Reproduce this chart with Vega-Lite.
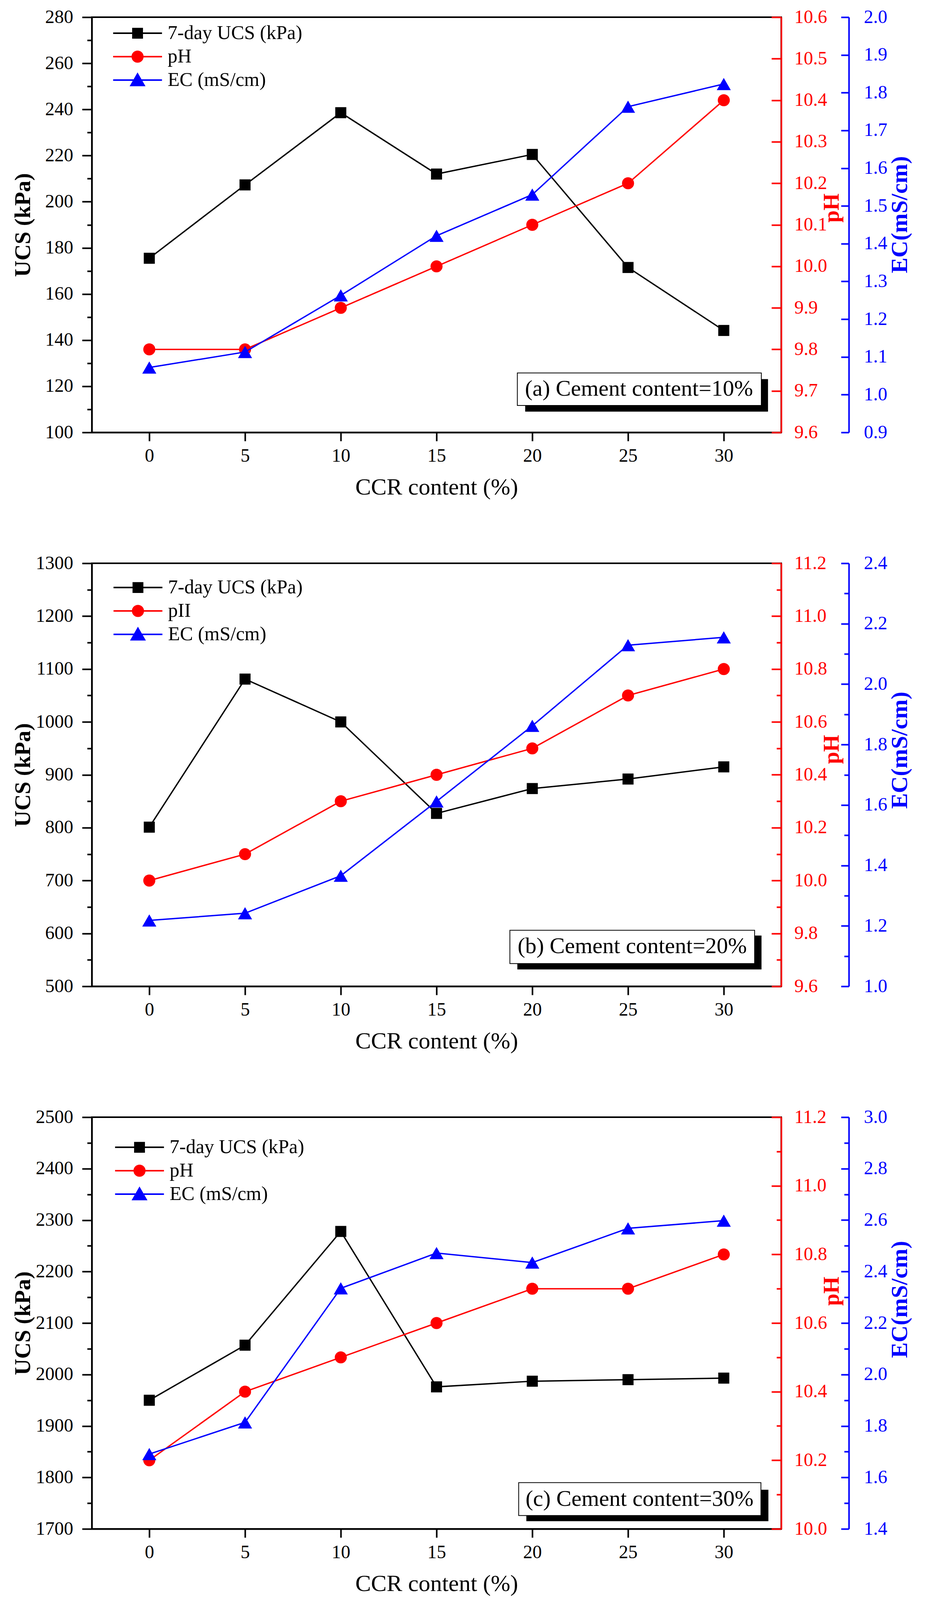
{
  "$schema": "https://vega.github.io/schema/vega-lite/v6.json",
  "background": "white",
  "padding": {"left": 28, "top": 18, "right": 10, "bottom": 4},
  "spacing": 335,
  "bounds": "flush",
  "resolve": {
    "scale": {"fill": "independent", "stroke": "independent", "shape": "independent"},
    "legend": {"fill": "independent", "stroke": "independent", "shape": "independent"}
  },
  "vconcat": [
    {
      "width": 1764,
      "height": 1063,
      "data": {"values": [
        {"ccr": 0, "ucs": 175.5, "ph": 9.8, "ec": 1.072},
        {"ccr": 5, "ucs": 207.3, "ph": 9.8, "ec": 1.113},
        {"ccr": 10, "ucs": 238.6, "ph": 9.9, "ec": 1.263},
        {"ccr": 15, "ucs": 212.0, "ph": 10.0, "ec": 1.421},
        {"ccr": 20, "ucs": 220.5, "ph": 10.1, "ec": 1.53},
        {"ccr": 25, "ucs": 171.5, "ph": 10.2, "ec": 1.763},
        {"ccr": 30, "ucs": 144.2, "ph": 10.4, "ec": 1.823}
      ]},
      "layer": [
        {
          "encoding": {
            "x": {"field": "ccr", "type": "quantitative",
              "scale": {"domain": [-3, 33], "nice": false, "zero": false},
              "axis": {"values": [0, 5, 10, 15, 20, 25, 30], "tickSize": 22, "labelPadding": 14, "title": "CCR content (%)", "titlePadding": 27}},
            "y": {"field": "ucs", "type": "quantitative",
              "scale": {"domain": [100, 280], "nice": false, "zero": false},
              "axis": {"orient": "left", "format": "d", "values": [100, 110, 120, 130, 140, 150, 160, 170, 180, 190, 200, 210, 220, 230, 240, 250, 260, 270, 280],
                "tickSize": {"condition": {"test": "datum.value % 20 === 0", "value": 25}, "value": 12},
                "labelExpr": "datum.value % 20 === 0 ? datum.label : ''",
                "labelPadding": 23, "title": "UCS (kPa)", "titleFontWeight": "bold", "titleFontSize": 58, "titlePadding": 27}}},
          "layer": [
            {"mark": {"type": "line", "color": "black", "strokeWidth": 3.5}, "encoding": {}},
            {"mark": {"type": "point", "shape": "square", "filled": true, "size": 800, "opacity": 1, "color": "black"}, "encoding": {}}
          ]
        },
        {
          "encoding": {
            "x": {"field": "ccr", "type": "quantitative",
              "scale": {"domain": [-3, 33], "nice": false, "zero": false},
              "axis": {"values": [0, 5, 10, 15, 20, 25, 30], "tickSize": 22, "labelPadding": 14, "title": "CCR content (%)", "titlePadding": 27}},
            "y": {"field": "ph", "type": "quantitative",
              "scale": {"domain": [9.6, 10.6], "nice": false, "zero": false},
              "axis": {"orient": "right", "values": [9.6, 9.7, 9.8, 9.9, 10.0, 10.1, 10.2, 10.3, 10.4, 10.5, 10.6], "format": ".1f",
                "tickSize": -25, "domainColor": "#ff0000", "tickColor": "#ff0000", "labelColor": "#ff0000", "labelPadding": 58,
                "title": "pH", "titleColor": "#ff0000", "titleFontWeight": "bold", "titleFontSize": 56, "titleAngle": 270, "titleBaseline": "top", "titlePadding": -15, "titleY": 488}}},
          "layer": [
            {"mark": {"type": "line", "color": "#ff0000", "strokeWidth": 3.5}, "encoding": {}},
            {"mark": {"type": "point", "shape": "circle", "filled": true, "size": 950, "opacity": 1, "color": "#ff0000"}, "encoding": {}}
          ]
        },
        {
          "encoding": {
            "x": {"field": "ccr", "type": "quantitative",
              "scale": {"domain": [-3, 33], "nice": false, "zero": false},
              "axis": {"values": [0, 5, 10, 15, 20, 25, 30], "tickSize": 22, "labelPadding": 14, "title": "CCR content (%)", "titlePadding": 27}},
            "y": {"field": "ec", "type": "quantitative",
              "scale": {"domain": [0.9, 2.0], "nice": false, "zero": false},
              "axis": {"orient": "right", "offset": 173, "values": [0.9, 1.0, 1.1, 1.2, 1.3, 1.4, 1.5, 1.6, 1.7, 1.8, 1.9, 2.0], "format": ".1f",
                "tickSize": -20, "domainColor": "#0000ff", "tickColor": "#0000ff", "labelColor": "#0000ff", "labelPadding": 58,
                "title": "EC(mS/cm)", "titleColor": "#0000ff", "titleFontWeight": "bold", "titleFontSize": 60, "titleAngle": 270, "titleBaseline": "top", "titlePadding": 3, "titleY": 505}}},
          "layer": [
            {"mark": {"type": "line", "color": "#0000ff", "strokeWidth": 3.5}, "encoding": {}},
            {"mark": {"type": "point", "shape": "triangle-up", "filled": true, "size": 1300, "opacity": 1, "color": "#0000ff"}, "encoding": {}}
          ]
        },
        {
          "data": {"values": [{"label": "(a) Cement content=10%"}]},
          "layer": [
            {"mark": {"type": "rect", "color": "black"},
             "encoding": {
               "x": {"datum": 19.63, "type": "quantitative", "scale": {"domain": [-3, 33], "nice": false, "zero": false},
                 "axis": {"values": [0, 5, 10, 15, 20, 25, 30], "tickSize": 22, "labelPadding": 14, "title": "CCR content (%)", "titlePadding": 27}},
               "x2": {"datum": 32.31},
               "y": {"datum": 123.1, "type": "quantitative", "scale": {"domain": [100, 280], "nice": false, "zero": false}, "axis": null},
               "y2": {"datum": 109.0}}},
            {"mark": {"type": "rect", "fill": "white", "stroke": "black", "strokeWidth": 2},
             "encoding": {
               "x": {"datum": 19.22, "type": "quantitative", "scale": {"domain": [-3, 33], "nice": false, "zero": false},
                 "axis": {"values": [0, 5, 10, 15, 20, 25, 30], "tickSize": 22, "labelPadding": 14, "title": "CCR content (%)", "titlePadding": 27}},
               "x2": {"datum": 31.96},
               "y": {"datum": 125.8, "type": "quantitative", "scale": {"domain": [100, 280], "nice": false, "zero": false}, "axis": null},
               "y2": {"datum": 111.7}}},
            {"mark": {"type": "text", "font": "Liberation Serif", "fontSize": 58, "color": "black"},
             "encoding": {
               "x": {"datum": 25.57, "type": "quantitative", "scale": {"domain": [-3, 33], "nice": false, "zero": false},
                 "axis": {"values": [0, 5, 10, 15, 20, 25, 30], "tickSize": 22, "labelPadding": 14, "title": "CCR content (%)", "titlePadding": 27}},
               "y": {"datum": 118.8, "type": "quantitative", "scale": {"domain": [100, 280], "nice": false, "zero": false}, "axis": null},
               "text": {"field": "label"}}}
          ]
        },
        {
          "data": {"values": []},
          "mark": {"type": "point", "filled": true, "opacity": 1},
          "encoding": {
            "fill": {"datum": "7-day UCS (kPa)", "type": "nominal",
              "scale": {"domain": ["7-day UCS (kPa)", "pH", "EC (mS/cm)"], "range": ["#000000", "#ff0000", "#0000ff"]},
              "legend": {"title": null, "orient": "none", "legendX": 52.5, "legendY": 11}},
            "stroke": {"datum": "7-day UCS (kPa)", "type": "nominal",
              "scale": {"domain": ["7-day UCS (kPa)", "pH", "EC (mS/cm)"], "range": ["#000000", "#ff0000", "#0000ff"]},
              "legend": {"title": null, "orient": "none", "legendX": 52.5, "legendY": 11}},
            "shape": {"datum": "7-day UCS (kPa)", "type": "nominal",
              "scale": {"domain": ["7-day UCS (kPa)", "pH", "EC (mS/cm)"], "range": ["M-1,0H1M-0.19,-0.19H0.19V0.19H-0.19Z", "M-1,0H1M-0.216,0A0.216,0.216 0 1,1 0.216,0A0.216,0.216 0 1,1 -0.216,0Z", "M-1,0H1M0,-0.25L0.27,0.22L-0.27,0.22Z"]},
              "legend": {"title": null, "orient": "none", "legendX": 52.5, "legendY": 11}}
          }
        }
      ],
      "resolve": {"scale": {"y": "independent"}}
    },
    {
      "width": 1764,
      "height": 1083,
      "data": {"values": [
        {"ccr": 0, "ucs": 801, "ph": 10.0, "ec": 1.218},
        {"ccr": 5, "ucs": 1081, "ph": 10.1, "ec": 1.242},
        {"ccr": 10, "ucs": 1000, "ph": 10.3, "ec": 1.366},
        {"ccr": 15, "ucs": 827, "ph": 10.4, "ec": 1.612},
        {"ccr": 20, "ucs": 874, "ph": 10.5, "ec": 1.862},
        {"ccr": 25, "ucs": 892, "ph": 10.7, "ec": 2.129},
        {"ccr": 30, "ucs": 915, "ph": 10.8, "ec": 2.155}
      ]},
      "layer": [
        {
          "encoding": {
            "x": {"field": "ccr", "type": "quantitative",
              "scale": {"domain": [-3, 33], "nice": false, "zero": false},
              "axis": {"values": [0, 5, 10, 15, 20, 25, 30], "tickSize": 22, "labelPadding": 14, "title": "CCR content (%)", "titlePadding": 27}},
            "y": {"field": "ucs", "type": "quantitative",
              "scale": {"domain": [500, 1300], "nice": false, "zero": false},
              "axis": {"orient": "left", "format": "d", "values": [500, 550, 600, 650, 700, 750, 800, 850, 900, 950, 1000, 1050, 1100, 1150, 1200, 1250, 1300],
                "tickSize": {"condition": {"test": "datum.value % 100 === 0", "value": 25}, "value": 12},
                "labelExpr": "datum.value % 100 === 0 ? datum.label : ''",
                "labelPadding": 23, "title": "UCS (kPa)", "titleFontWeight": "bold", "titleFontSize": 58, "titlePadding": 3}}},
          "layer": [
            {"mark": {"type": "line", "color": "black", "strokeWidth": 3.5}, "encoding": {}},
            {"mark": {"type": "point", "shape": "square", "filled": true, "size": 800, "opacity": 1, "color": "black"}, "encoding": {}}
          ]
        },
        {
          "encoding": {
            "x": {"field": "ccr", "type": "quantitative",
              "scale": {"domain": [-3, 33], "nice": false, "zero": false},
              "axis": {"values": [0, 5, 10, 15, 20, 25, 30], "tickSize": 22, "labelPadding": 14, "title": "CCR content (%)", "titlePadding": 27}},
            "y": {"field": "ph", "type": "quantitative",
              "scale": {"domain": [9.6, 11.2], "nice": false, "zero": false},
              "axis": {"orient": "right", "values": [9.6, 9.7, 9.8, 9.9, 10.0, 10.1, 10.2, 10.3, 10.4, 10.5, 10.6, 10.7, 10.8, 10.9, 11.0, 11.1, 11.2], "format": ".1f",
                "tickSize": {"condition": {"test": "abs(datum.value * 5 - round(datum.value * 5)) < 0.01", "value": -25}, "value": -12},
                "labelExpr": "abs(datum.value * 5 - round(datum.value * 5)) < 0.01 ? datum.label : ''",
                "domainColor": "#ff0000", "tickColor": "#ff0000", "labelColor": "#ff0000", "labelPadding": 58,
                "title": "pH", "titleColor": "#ff0000", "titleFontWeight": "bold", "titleFontSize": 56, "titleAngle": 270, "titleBaseline": "top", "titlePadding": -15, "titleY": 476}}},
          "layer": [
            {"mark": {"type": "line", "color": "#ff0000", "strokeWidth": 3.5}, "encoding": {}},
            {"mark": {"type": "point", "shape": "circle", "filled": true, "size": 950, "opacity": 1, "color": "#ff0000"}, "encoding": {}}
          ]
        },
        {
          "encoding": {
            "x": {"field": "ccr", "type": "quantitative",
              "scale": {"domain": [-3, 33], "nice": false, "zero": false},
              "axis": {"values": [0, 5, 10, 15, 20, 25, 30], "tickSize": 22, "labelPadding": 14, "title": "CCR content (%)", "titlePadding": 27}},
            "y": {"field": "ec", "type": "quantitative",
              "scale": {"domain": [1.0, 2.4], "nice": false, "zero": false},
              "axis": {"orient": "right", "offset": 173, "values": [1.0, 1.1, 1.2, 1.3, 1.4, 1.5, 1.6, 1.7, 1.8, 1.9, 2.0, 2.1, 2.2, 2.3, 2.4], "format": ".1f",
                "tickSize": {"condition": {"test": "abs(datum.value * 5 - round(datum.value * 5)) < 0.01", "value": -20}, "value": -12},
                "labelExpr": "abs(datum.value * 5 - round(datum.value * 5)) < 0.01 ? datum.label : ''",
                "domainColor": "#0000ff", "tickColor": "#0000ff", "labelColor": "#0000ff", "labelPadding": 58,
                "title": "EC(mS/cm)", "titleColor": "#0000ff", "titleFontWeight": "bold", "titleFontSize": 60, "titleAngle": 270, "titleBaseline": "top", "titlePadding": 3, "titleY": 478}}},
          "layer": [
            {"mark": {"type": "line", "color": "#0000ff", "strokeWidth": 3.5}, "encoding": {}},
            {"mark": {"type": "point", "shape": "triangle-up", "filled": true, "size": 1300, "opacity": 1, "color": "#0000ff"}, "encoding": {}}
          ]
        },
        {
          "data": {"values": [{"label": "(b) Cement content=20%"}]},
          "layer": [
            {"mark": {"type": "rect", "color": "black"},
             "encoding": {
               "x": {"datum": 19.22, "type": "quantitative", "scale": {"domain": [-3, 33], "nice": false, "zero": false},
                 "axis": {"values": [0, 5, 10, 15, 20, 25, 30], "tickSize": 22, "labelPadding": 14, "title": "CCR content (%)", "titlePadding": 27}},
               "x2": {"datum": 31.97},
               "y": {"datum": 596, "type": "quantitative", "scale": {"domain": [500, 1300], "nice": false, "zero": false}, "axis": null},
               "y2": {"datum": 532}}},
            {"mark": {"type": "rect", "fill": "white", "stroke": "black", "strokeWidth": 2},
             "encoding": {
               "x": {"datum": 18.83, "type": "quantitative", "scale": {"domain": [-3, 33], "nice": false, "zero": false},
                 "axis": {"values": [0, 5, 10, 15, 20, 25, 30], "tickSize": 22, "labelPadding": 14, "title": "CCR content (%)", "titlePadding": 27}},
               "x2": {"datum": 31.61},
               "y": {"datum": 606, "type": "quantitative", "scale": {"domain": [500, 1300], "nice": false, "zero": false}, "axis": null},
               "y2": {"datum": 543}}},
            {"mark": {"type": "text", "font": "Liberation Serif", "fontSize": 58, "color": "black"},
             "encoding": {
               "x": {"datum": 25.22, "type": "quantitative", "scale": {"domain": [-3, 33], "nice": false, "zero": false},
                 "axis": {"values": [0, 5, 10, 15, 20, 25, 30], "tickSize": 22, "labelPadding": 14, "title": "CCR content (%)", "titlePadding": 27}},
               "y": {"datum": 575, "type": "quantitative", "scale": {"domain": [500, 1300], "nice": false, "zero": false}, "axis": null},
               "text": {"field": "label"}}}
          ]
        },
        {
          "data": {"values": []},
          "mark": {"type": "point", "filled": true, "opacity": 1},
          "encoding": {
            "fill": {"datum": "7-day UCS (kPa)", "type": "nominal",
              "scale": {"domain": ["7-day UCS (kPa)", "pII", "EC (mS/cm)"], "range": ["#000000", "#ff0000", "#0000ff"]},
              "legend": {"title": null, "orient": "none", "legendX": 53.5, "legendY": 32}},
            "stroke": {"datum": "7-day UCS (kPa)", "type": "nominal",
              "scale": {"domain": ["7-day UCS (kPa)", "pII", "EC (mS/cm)"], "range": ["#000000", "#ff0000", "#0000ff"]},
              "legend": {"title": null, "orient": "none", "legendX": 53.5, "legendY": 32}},
            "shape": {"datum": "7-day UCS (kPa)", "type": "nominal",
              "scale": {"domain": ["7-day UCS (kPa)", "pII", "EC (mS/cm)"], "range": ["M-1,0H1M-0.19,-0.19H0.19V0.19H-0.19Z", "M-1,0H1M-0.216,0A0.216,0.216 0 1,1 0.216,0A0.216,0.216 0 1,1 -0.216,0Z", "M-1,0H1M0,-0.25L0.27,0.22L-0.27,0.22Z"]},
              "legend": {"title": null, "orient": "none", "legendX": 53.5, "legendY": 32}}
          }
        }
      ],
      "resolve": {"scale": {"y": "independent"}}
    },
    {
      "width": 1764,
      "height": 1054,
      "data": {"values": [
        {"ccr": 0, "ucs": 1950, "ph": 10.2, "ec": 1.691},
        {"ccr": 5, "ucs": 2057, "ph": 10.4, "ec": 1.814},
        {"ccr": 10, "ucs": 2278, "ph": 10.5, "ec": 2.335},
        {"ccr": 15, "ucs": 1976, "ph": 10.6, "ec": 2.472},
        {"ccr": 20, "ucs": 1987, "ph": 10.7, "ec": 2.435},
        {"ccr": 25, "ucs": 1990, "ph": 10.7, "ec": 2.568},
        {"ccr": 30, "ucs": 1993, "ph": 10.8, "ec": 2.598}
      ]},
      "layer": [
        {
          "encoding": {
            "x": {"field": "ccr", "type": "quantitative",
              "scale": {"domain": [-3, 33], "nice": false, "zero": false},
              "axis": {"values": [0, 5, 10, 15, 20, 25, 30], "tickSize": 22, "labelPadding": 14, "title": "CCR content (%)", "titlePadding": 27}},
            "y": {"field": "ucs", "type": "quantitative",
              "scale": {"domain": [1700, 2500], "nice": false, "zero": false},
              "axis": {"orient": "left", "format": "d", "values": [1700, 1750, 1800, 1850, 1900, 1950, 2000, 2050, 2100, 2150, 2200, 2250, 2300, 2350, 2400, 2450, 2500],
                "tickSize": {"condition": {"test": "datum.value % 100 === 0", "value": 25}, "value": 12},
                "labelExpr": "datum.value % 100 === 0 ? datum.label : ''",
                "labelPadding": 23, "title": "UCS (kPa)", "titleFontWeight": "bold", "titleFontSize": 58, "titlePadding": 3}}},
          "layer": [
            {"mark": {"type": "line", "color": "black", "strokeWidth": 3.5}, "encoding": {}},
            {"mark": {"type": "point", "shape": "square", "filled": true, "size": 800, "opacity": 1, "color": "black"}, "encoding": {}}
          ]
        },
        {
          "encoding": {
            "x": {"field": "ccr", "type": "quantitative",
              "scale": {"domain": [-3, 33], "nice": false, "zero": false},
              "axis": {"values": [0, 5, 10, 15, 20, 25, 30], "tickSize": 22, "labelPadding": 14, "title": "CCR content (%)", "titlePadding": 27}},
            "y": {"field": "ph", "type": "quantitative",
              "scale": {"domain": [10.0, 11.2], "nice": false, "zero": false},
              "axis": {"orient": "right", "values": [10.0, 10.1, 10.2, 10.3, 10.4, 10.5, 10.6, 10.7, 10.8, 10.9, 11.0, 11.1, 11.2], "format": ".1f",
                "tickSize": {"condition": {"test": "abs(datum.value * 5 - round(datum.value * 5)) < 0.01", "value": -25}, "value": -12},
                "labelExpr": "abs(datum.value * 5 - round(datum.value * 5)) < 0.01 ? datum.label : ''",
                "domainColor": "#ff0000", "tickColor": "#ff0000", "labelColor": "#ff0000", "labelPadding": 58,
                "title": "pH", "titleColor": "#ff0000", "titleFontWeight": "bold", "titleFontSize": 56, "titleAngle": 270, "titleBaseline": "top", "titlePadding": -15, "titleY": 445}}},
          "layer": [
            {"mark": {"type": "line", "color": "#ff0000", "strokeWidth": 3.5}, "encoding": {}},
            {"mark": {"type": "point", "shape": "circle", "filled": true, "size": 950, "opacity": 1, "color": "#ff0000"}, "encoding": {}}
          ]
        },
        {
          "encoding": {
            "x": {"field": "ccr", "type": "quantitative",
              "scale": {"domain": [-3, 33], "nice": false, "zero": false},
              "axis": {"values": [0, 5, 10, 15, 20, 25, 30], "tickSize": 22, "labelPadding": 14, "title": "CCR content (%)", "titlePadding": 27}},
            "y": {"field": "ec", "type": "quantitative",
              "scale": {"domain": [1.4, 3.0], "nice": false, "zero": false},
              "axis": {"orient": "right", "offset": 173, "values": [1.4, 1.5, 1.6, 1.7, 1.8, 1.9, 2.0, 2.1, 2.2, 2.3, 2.4, 2.5, 2.6, 2.7, 2.8, 2.9, 3.0], "format": ".1f",
                "tickSize": {"condition": {"test": "abs(datum.value * 5 - round(datum.value * 5)) < 0.01", "value": -20}, "value": -12},
                "labelExpr": "abs(datum.value * 5 - round(datum.value * 5)) < 0.01 ? datum.label : ''",
                "domainColor": "#0000ff", "tickColor": "#0000ff", "labelColor": "#0000ff", "labelPadding": 58,
                "title": "EC(mS/cm)", "titleColor": "#0000ff", "titleFontWeight": "bold", "titleFontSize": 60, "titleAngle": 270, "titleBaseline": "top", "titlePadding": 3, "titleY": 466}}},
          "layer": [
            {"mark": {"type": "line", "color": "#0000ff", "strokeWidth": 3.5}, "encoding": {}},
            {"mark": {"type": "point", "shape": "triangle-up", "filled": true, "size": 1300, "opacity": 1, "color": "#0000ff"}, "encoding": {}}
          ]
        },
        {
          "data": {"values": [{"label": "(c) Cement content=30%"}]},
          "layer": [
            {"mark": {"type": "rect", "color": "black"},
             "encoding": {
               "x": {"datum": 19.69, "type": "quantitative", "scale": {"domain": [-3, 33], "nice": false, "zero": false},
                 "axis": {"values": [0, 5, 10, 15, 20, 25, 30], "tickSize": 22, "labelPadding": 14, "title": "CCR content (%)", "titlePadding": 27}},
               "x2": {"datum": 32.33},
               "y": {"datum": 1776, "type": "quantitative", "scale": {"domain": [1700, 2500], "nice": false, "zero": false}, "axis": null},
               "y2": {"datum": 1715}}},
            {"mark": {"type": "rect", "fill": "white", "stroke": "black", "strokeWidth": 2},
             "encoding": {
               "x": {"datum": 19.29, "type": "quantitative", "scale": {"domain": [-3, 33], "nice": false, "zero": false},
                 "axis": {"values": [0, 5, 10, 15, 20, 25, 30], "tickSize": 22, "labelPadding": 14, "title": "CCR content (%)", "titlePadding": 27}},
               "x2": {"datum": 31.94},
               "y": {"datum": 1790, "type": "quantitative", "scale": {"domain": [1700, 2500], "nice": false, "zero": false}, "axis": null},
               "y2": {"datum": 1726}}},
            {"mark": {"type": "text", "font": "Liberation Serif", "fontSize": 58, "color": "black"},
             "encoding": {
               "x": {"datum": 25.6, "type": "quantitative", "scale": {"domain": [-3, 33], "nice": false, "zero": false},
                 "axis": {"values": [0, 5, 10, 15, 20, 25, 30], "tickSize": 22, "labelPadding": 14, "title": "CCR content (%)", "titlePadding": 27}},
               "y": {"datum": 1758, "type": "quantitative", "scale": {"domain": [1700, 2500], "nice": false, "zero": false}, "axis": null},
               "text": {"field": "label"}}}
          ]
        },
        {
          "data": {"values": []},
          "mark": {"type": "point", "filled": true, "opacity": 1},
          "encoding": {
            "fill": {"datum": "7-day UCS (kPa)", "type": "nominal",
              "scale": {"domain": ["7-day UCS (kPa)", "pH", "EC (mS/cm)"], "range": ["#000000", "#ff0000", "#0000ff"]},
              "legend": {"title": null, "orient": "none", "legendX": 57.5, "legendY": 47}},
            "stroke": {"datum": "7-day UCS (kPa)", "type": "nominal",
              "scale": {"domain": ["7-day UCS (kPa)", "pH", "EC (mS/cm)"], "range": ["#000000", "#ff0000", "#0000ff"]},
              "legend": {"title": null, "orient": "none", "legendX": 57.5, "legendY": 47}},
            "shape": {"datum": "7-day UCS (kPa)", "type": "nominal",
              "scale": {"domain": ["7-day UCS (kPa)", "pH", "EC (mS/cm)"], "range": ["M-1,0H1M-0.19,-0.19H0.19V0.19H-0.19Z", "M-1,0H1M-0.216,0A0.216,0.216 0 1,1 0.216,0A0.216,0.216 0 1,1 -0.216,0Z", "M-1,0H1M0,-0.25L0.27,0.22L-0.27,0.22Z"]},
              "legend": {"title": null, "orient": "none", "legendX": 57.5, "legendY": 47}}
          }
        }
      ],
      "resolve": {"scale": {"y": "independent"}}
    }
  ],
  "config": {
    "view": {"stroke": "black", "strokeWidth": 4},
    "font": "Liberation Serif",
    "axis": {"grid": false, "labelFont": "Liberation Serif", "labelFontSize": 48, "titleFont": "Liberation Serif", "titleFontSize": 60, "titleFontWeight": "normal",
      "domainWidth": 4, "tickWidth": 4, "labelOverlap": false, "labelFlush": false,
      "domainColor": "black", "tickColor": "black", "labelColor": "black", "titleColor": "black"},
    "legend": {"symbolSize": 15625, "clipHeight": 60, "rowPadding": 0, "labelOffset": 12.5, "padding": 0,
      "labelFont": "Liberation Serif", "labelFontSize": 50, "labelColor": "black", "symbolStrokeWidth": 4, "labelLimit": 0}
  }
}
